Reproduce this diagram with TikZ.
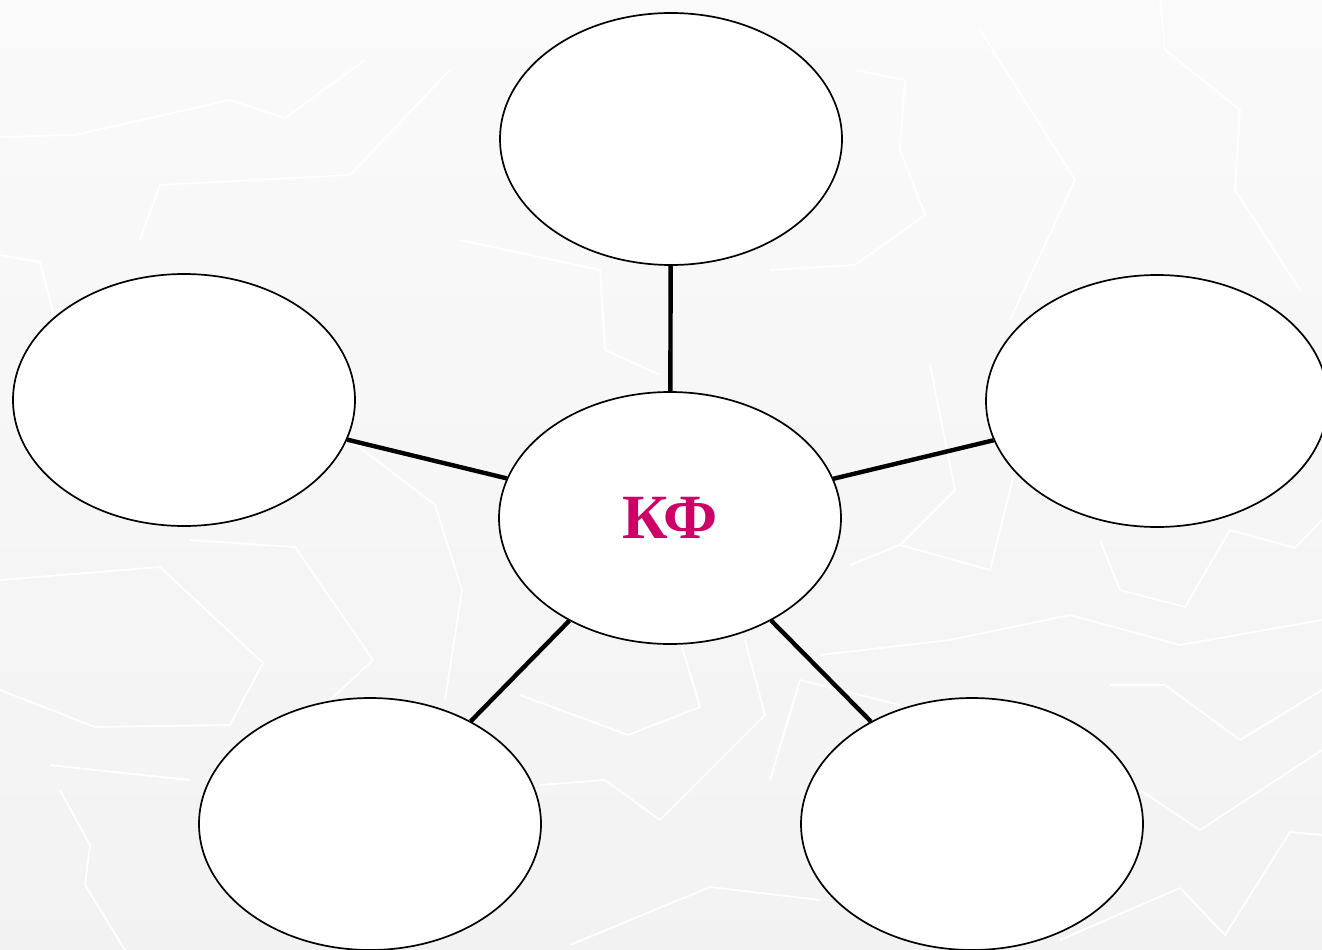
\documentclass[tikz,border=0pt]{standalone}
\usepackage{fontspec}
\newfontfamily\kffont{Liberation Serif}
\usetikzlibrary{shapes.geometric}
\definecolor{kfpink}{HTML}{CC0066}

\begin{document}
\begin{tikzpicture}[x=1pt,y=-1pt,line width=4.4pt,
		main node/.style={ellipse,draw,line width=1.7pt,fill=white,inner sep=0pt,
			minimum width=342pt,minimum height=252pt},
		bg line/.style={draw=white,line width=1.8pt,line join=round}]
		% background
		\fill[top color=white!98!black,bottom color=white!95!black] (0,0) rectangle (1322,950);
		\useasboundingbox (0,0) rectangle (1322,950);
		\draw[bg line] (0,137) -- (75,135) -- (230,100) -- (285,118) -- (365,60);
		\draw[bg line] (140,240) -- (160,185) -- (350,175) -- (450,70);
		\draw[bg line] (0,255) -- (40,262) -- (55,320);
		\draw[bg line] (980,30) -- (1075,180) -- (1010,320);
		\draw[bg line] (1160,0) -- (1165,50) -- (1240,110) -- (1235,190) -- (1300,290);
		\draw[bg line] (930,365) -- (955,490) -- (900,545);
		\draw[bg line] (770,270) -- (855,265) -- (925,215) -- (900,150) -- (905,80) -- (855,70);
		\draw[bg line] (460,240) -- (600,270) -- (605,350) -- (660,375);
		\draw[bg line] (350,440) -- (435,505) -- (462,590) -- (445,700);
		\draw[bg line] (190,540) -- (295,547) -- (373,660) -- (330,700);
		\draw[bg line] (0,580) -- (160,567) -- (263,663) -- (230,725) -- (95,727) -- (0,690);
		\draw[bg line] (520,695) -- (628,735) -- (700,707) -- (680,640);
		\draw[bg line] (540,785) -- (605,780) -- (660,820) -- (765,715) -- (745,640);
		\draw[bg line] (770,780) -- (800,680) -- (900,705);
		\draw[bg line] (820,655) -- (950,640) -- (1070,615) -- (1180,645) -- (1322,620);
		\draw[bg line] (1100,540) -- (1120,590) -- (1185,607) -- (1230,530) -- (1295,548) -- (1322,520);
		\draw[bg line] (1110,685) -- (1165,685) -- (1240,740) -- (1322,690);
		\draw[bg line] (1140,790) -- (1200,830) -- (1322,750);
		\draw[bg line] (1060,940) -- (1180,888) -- (1225,935) -- (1290,832) -- (1322,835);
		\draw[bg line] (570,945) -- (710,887) -- (820,900);
		\draw[bg line] (60,790) -- (90,845) -- (85,885) -- (125,950);
		\draw[bg line] (50,765) -- (95,770) -- (190,780);
		\draw[bg line] (850,565) -- (900,545) -- (990,570) -- (1015,470);
		
		\node[main node] (kf) at (670,518) {\kffont\fontsize{63}{63}\selectfont\bfseries\color{kfpink}КФ};
		\node[main node] (top) at (671,139) {};
		\node[main node] (left) at (184,400) {};
		\node[main node] (right) at (1157,401) {};
		\node[main node] (botleft) at (370,824) {};
		\node[main node] (botright) at (972,824) {};
		
		\draw (kf) -- (top);
		\draw (kf) -- (left);
		\draw (kf) -- (right);
		\draw (kf) -- (botleft);
		\draw (kf) -- (botright);
		
		\end{tikzpicture}
\end{document}
